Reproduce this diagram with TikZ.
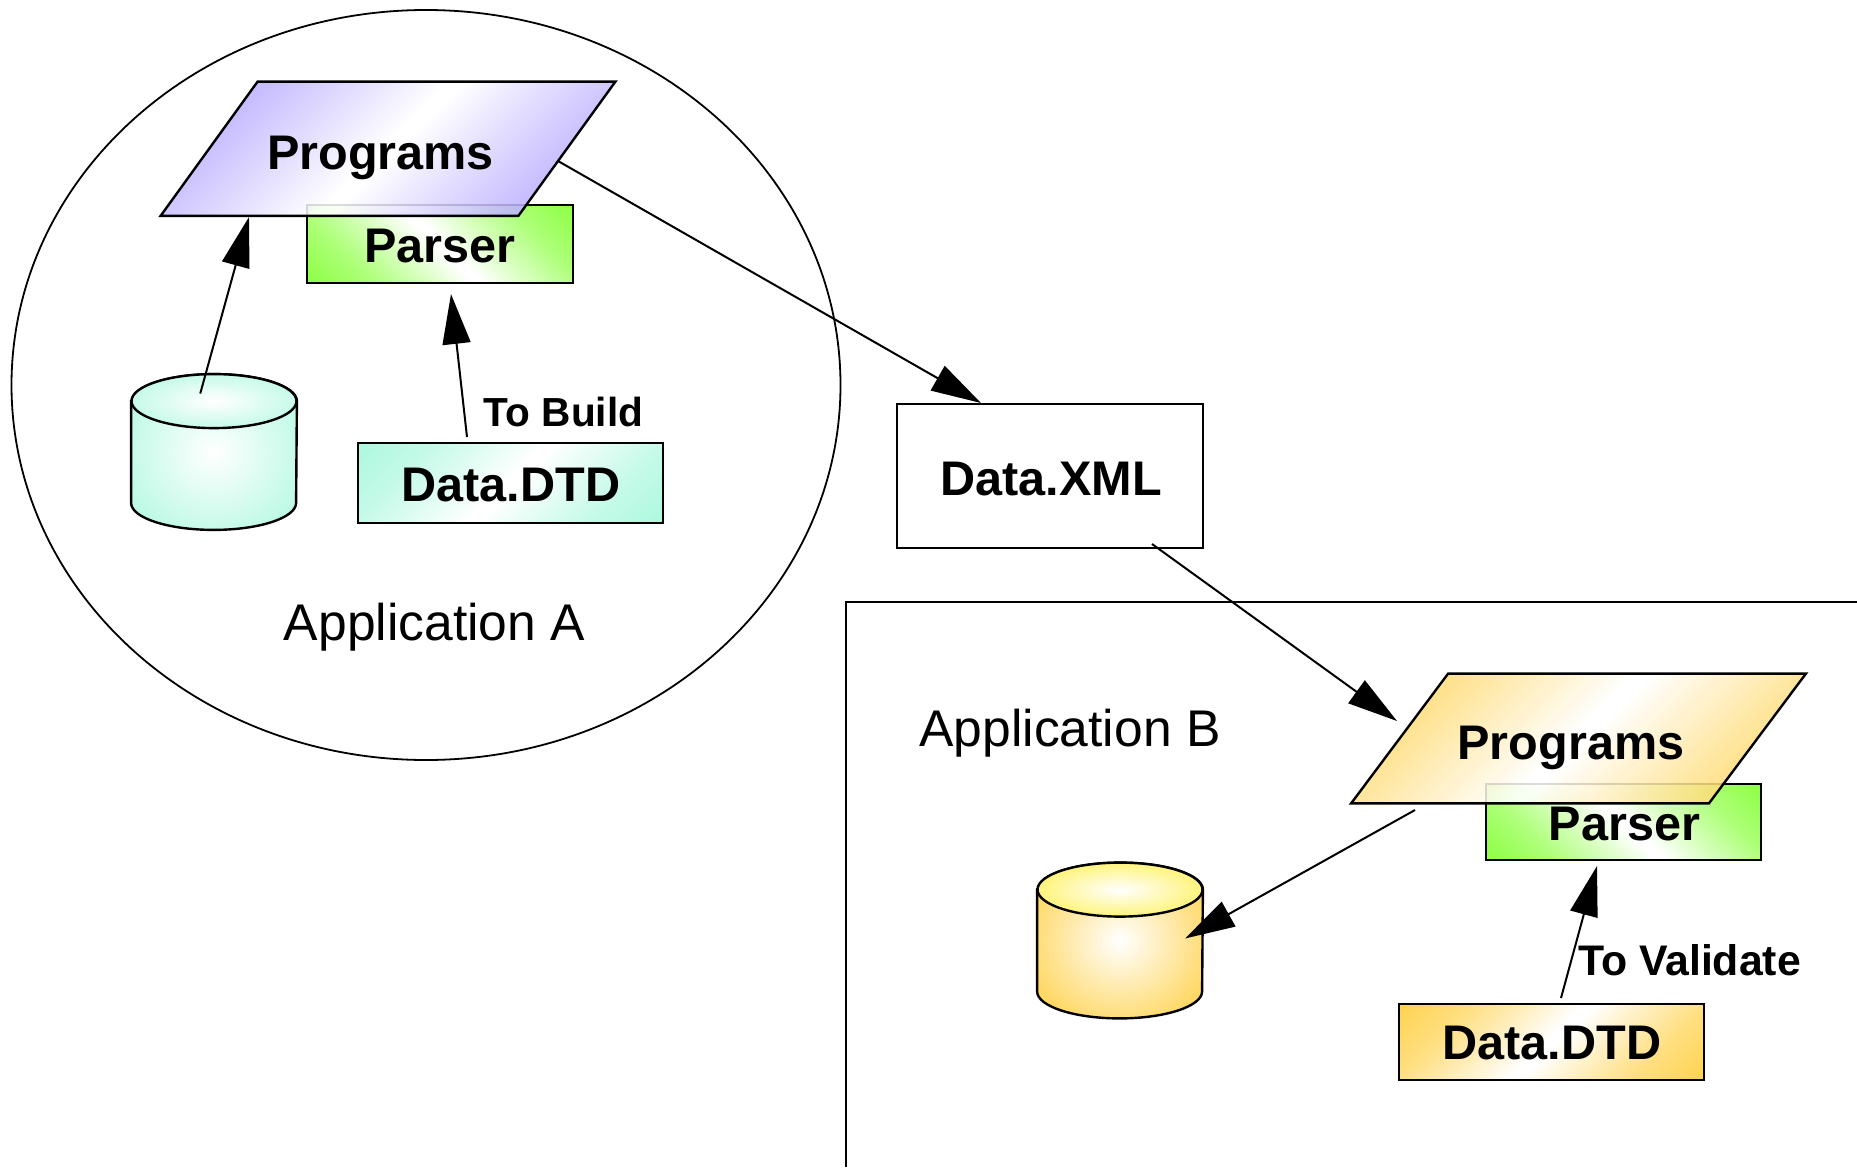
\documentclass[tikz,border=0pt]{standalone}
\usepackage{fontspec}
\setmainfont{Liberation Sans}
\usetikzlibrary{shapes.geometric,arrows.meta}
\definecolor{tealc}{HTML}{ACF8DE}
\definecolor{greenc}{HTML}{8CFF42}
\definecolor{purplec}{HTML}{A898FF}
\definecolor{orangec}{HTML}{FFD24E}
\definecolor{yellowc}{HTML}{FFF050}
\pgfdeclareradialshading{radteal}{\pgfpointorigin}{color(0bp)=(white); color(33bp)=(tealc!90!white); color(50bp)=(tealc!90!white)}
\pgfdeclareradialshading{radorange}{\pgfpointorigin}{color(0bp)=(white); color(33bp)=(orangec); color(50bp)=(orangec)}
\pgfdeclareradialshading{radyellow}{\pgfpointorigin}{color(0bp)=(white); color(33bp)=(yellowc); color(50bp)=(yellowc)}
\newcommand{\declband}[1]{\pgfdeclareverticalshading{band#1}{100bp}{color(0bp)=(#1c); color(14bp)=(#1c); color(28bp)=(#1c!72!white); color(40bp)=(#1c!32!white); color(49bp)=(white); color(51bp)=(white); color(60bp)=(#1c!32!white); color(72bp)=(#1c!72!white); color(86bp)=(#1c); color(100bp)=(#1c)}}
\declband{teal}
\declband{green}
\declband{purple}
\declband{orange}
\tikzset{
  x=0.5pt,y=-0.5pt,
  thinline/.style={draw=black,line width=0.9pt},
  boxline/.style={draw=black,line width=1.2pt},
  plainbox/.style={boxline,rectangle,inner sep=0pt,minimum width=#1},
  slabholder/.style={inner sep=0pt,minimum width=227pt},
  bold/.style={font=\bfseries\fontsize{24.3}{28}\selectfont,inner sep=0pt},
  smallbold/.style={font=\bfseries\fontsize{#1}{24}\selectfont,inner sep=0pt},
  plain/.style={font=\fontsize{25.8}{30}\selectfont,inner sep=0pt},
  arrowline/.style={draw=black,line width=1pt,-{Triangle[length=25pt,width=14pt]}},
  cylholder/.style={inner sep=0pt,minimum width=82.5pt,minimum height=77.5pt},
}
\newcommand{\slabpath}[2]{%
  \path[boxline,shading=band#2,shading angle=45,fill opacity=0.86]
    ([xshift=48.5pt]#1.north west) -- (#1.north east)
    -- ([xshift=-48.5pt]#1.south east) -- (#1.south west) -- cycle;
}
\newcommand{\cylbody}[3]{%
  \path[boxline,shading=#2]
    ([yshift=-13.5pt]#1.north west) -- ([yshift=13.5pt]#1.south west)
    arc[start angle=180,end angle=360,x radius=41.25pt,y radius=13.5pt]
    -- ([yshift=-13.5pt]#1.north east)
    arc[start angle=0,end angle=180,x radius=41.25pt,y radius=13.5pt] -- cycle;
  \path[boxline,shading=#3]
    ([yshift=-13.5pt]#1.north) ellipse[x radius=41.25pt,y radius=13.5pt];
}
\begin{document}
\begin{tikzpicture}
\useasboundingbox[fill=white] (0,0) rectangle (1857,1167);

% Application A
\node[thinline,ellipse,inner sep=0pt,minimum width=414.5pt,minimum height=375pt] (appA) at (426,385) {};
\node[plain] (appAlabel) at (434.5,627) {Application A};

% Application B frame
\coordinate (bBottom) at (846,1167);
\coordinate (bCorner) at (846,602);
\coordinate (bRight) at (1857,602);
\draw[thinline] (bBottom) -- (bCorner) -- (bRight);
\node[plain] (appBlabel) at (1070,733) {Application B};

% Application A contents
\node[plainbox=133pt,minimum height=39pt,shading=bandgreen,shading angle=-45] (parserA) at (440,244) {};
\node[slabholder,minimum height=66.75pt] (progA) at (388,148.75) {};
\slabpath{progA}{purple}
\node[bold] (progAlabel) at (380.5,158) {Programs};
\node[bold] (parserAlabel) at (440,246) {Parser};
\node[plainbox=152.5pt,minimum height=40pt,shading=bandteal,shading angle=45] (dtdA) at (510.5,483) {};
\node[bold] (dtdAlabel) at (511,485.5) {Data.DTD};
\node[cylholder] (cylA) at (214,452) {};
\cylbody{cylA}{radteal}{radteal}
\node[smallbold=20.3] (buildlabel) at (563.5,412) {To Build};

% Data.XML
\node[plainbox=153pt,minimum height=72pt,fill=white] (xml) at (1050,476) {};
\node[bold] (xmllabel) at (1051,479.5) {Data.XML};

% Application B contents
\node[plainbox=137.5pt,minimum height=38pt,shading=bandgreen,shading angle=-45] (parserB) at (1623.5,822) {};
\node[slabholder,minimum height=64.5pt] (progB) at (1578.5,738.5) {};
\slabpath{progB}{orange}
\node[bold] (progBlabel) at (1571,748) {Programs};
\node[bold] (parserBlabel) at (1624.5,824) {Parser};
\node[plainbox=152.5pt,minimum height=38pt,shading=bandorange,shading angle=45] (dtdB) at (1551.5,1042) {};
\node[bold] (dtdBlabel) at (1552,1043.5) {Data.DTD};
\node[cylholder] (cylB) at (1120,940.5) {};
\cylbody{cylB}{radorange}{radyellow}
\node[smallbold=21.4] (validatelabel) at (1689.5,960.5) {To Validate};

% Connectors
\draw[arrowline] ([shift={(-13.75,-58.5)}]cylA.center) -- ([shift={(-139,68.25)}]progA.center);
\draw[arrowline] ([shift={(-43.5,-46)}]dtdA.center) -- ([shift={(11,50)}]parserA.center);
\draw[arrowline] ([shift={(170,12.25)}]progA.center) -- ([shift={(-69,-73)}]xml.center);
\draw[arrowline] ([shift={(102,68)}]xml.center) -- ([shift={(-181.5,-17.5)}]progB.center);
\draw[arrowline] ([shift={(-163.5,71.5)}]progB.center) -- ([shift={(65,-2)}]cylB.center);
\draw[arrowline] ([shift={(9.5,-44)}]dtdB.center) -- ([shift={(-26.5,44)}]parserB.center);
\end{tikzpicture}
\end{document}
